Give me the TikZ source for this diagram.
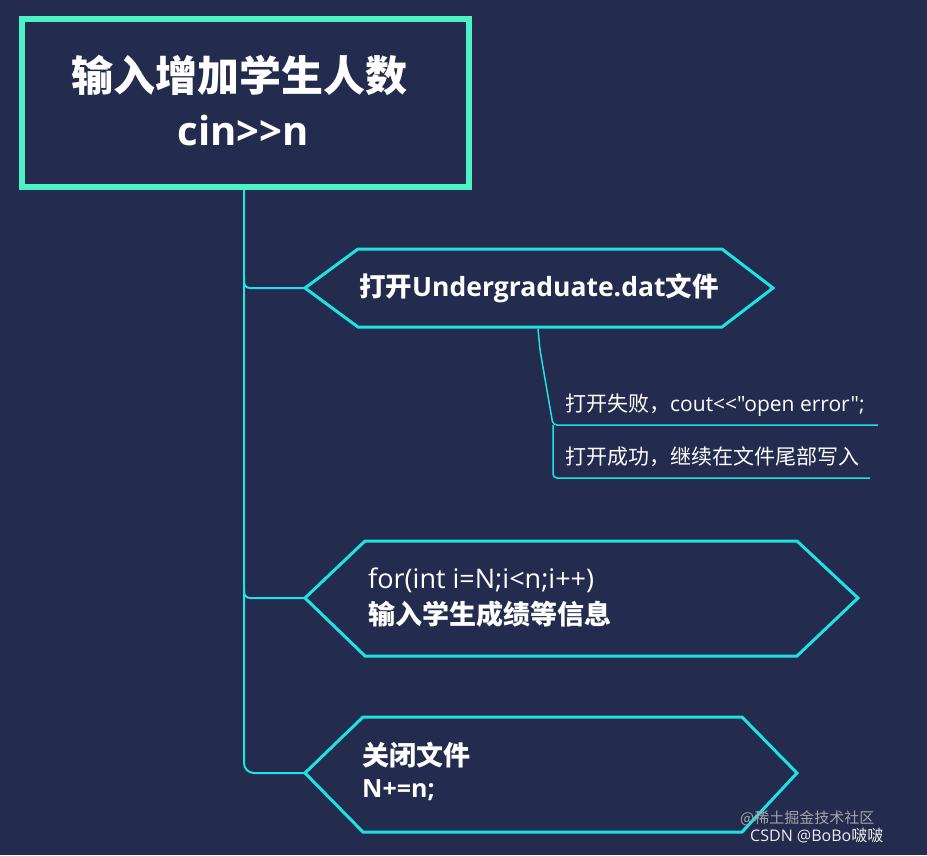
\documentclass[tikz,border=0pt]{standalone}
\usepackage{fontspec}
\setmainfont{Open Sans}[Ligatures=TeXOff]
\newfontfamily\cjk{Noto Sans CJK SC}[Ligatures=TeXOff]
\begin{document}
\begin{tikzpicture}[x=1pt,y=-1pt,
  trunk/.style={draw=cyanline,line width=2pt},
  hexbox/.style={draw=cyanline,line width=3pt},
  lbl/.style={text=white,anchor=west,inner sep=0pt}]
\definecolor{bg}{HTML}{232B4E}
\definecolor{cyanline}{HTML}{1EE3DF}
\definecolor{greenb}{HTML}{4DF2C4}
\fill[bg] (0,0) rectangle (927,855);
\useasboundingbox (0,0) rectangle (927,855);
% top box
\draw[draw=greenb,line width=6pt,fill=bg] (22,19) rectangle (469,187);
\node[text=white,font=\fontsize{42}{46}\selectfont\bfseries\cjk] (t1) at (239,75) {输入增加学生人数};
\node[text=white,font=\fontsize{40}{44}\selectfont\bfseries] (t2) at (243,130) {cin>>n};
\coordinate (top) at (244,190);
% trunk
\draw[trunk,rounded corners=10pt] (top) -- (244,773) -- (305,773);
\draw[trunk,rounded corners=6pt] (244,278) -- (244,288) -- (305,288);
\draw[trunk,rounded corners=6pt] (244,588) -- (244,598) -- (305,598);
% hexagons
\draw[hexbox] (305,288) -- (358,249) -- (722,249) -- (773,288) -- (722,327) -- (358,327) -- cycle;
\node[lbl,font=\fontsize{26.5}{30}\selectfont\bfseries] (h1) at (359,288) {{\cjk 打开}Undergraduate.dat{\cjk 文件}};
\draw[hexbox] (305,598) -- (365,541) -- (797,541) -- (858,598) -- (797,656) -- (365,656) -- cycle;
\node[lbl,font=\fontsize{27}{30}\selectfont] (h2a) at (368,580) {for(int i=N;i<n;i++)};
\node[lbl,font=\fontsize{27}{30}\selectfont\bfseries\cjk] (h2b) at (368,614) {输入学生成绩等信息};
\draw[hexbox] (305,773) -- (363,717) -- (742,717) -- (797,773) -- (742,832) -- (363,832) -- cycle;
\node[lbl,font=\fontsize{27}{30}\selectfont\bfseries\cjk] (h3a) at (362,755) {关闭文件};
\node[lbl,font=\fontsize{25}{28}\selectfont\bfseries] (h3b) at (362,790) {N+=n;};
% sub branches
\draw[draw=cyanline,line width=1.5pt,rounded corners=4pt] (538,329) -- (540,350) -- (553,425) -- (878,425);
\draw[draw=cyanline,line width=1.5pt,rounded corners=4pt] (553,425) -- (553,478) -- (870,478);
\node[lbl,font=\fontsize{21}{24}\selectfont] (s1) at (565,405) {{\cjk 打开失败，}cout<<"open error";};
\node[lbl,font=\fontsize{21}{24}\selectfont\cjk] (s2) at (565,457) {打开成功，继续在文件尾部写入};
% watermark
\node[anchor=west,inner sep=0pt,text=gray!70,font=\fontsize{15}{17}\selectfont\cjk] (w1) at (740,818) {@稀土掘金技术社区};
\node[anchor=west,inner sep=0pt,text=white!85!gray,font=\fontsize{16}{18}\selectfont] (w2) at (750,836) {CSDN @BoBo{\cjk 啵啵}};
\end{tikzpicture}
\end{document}
